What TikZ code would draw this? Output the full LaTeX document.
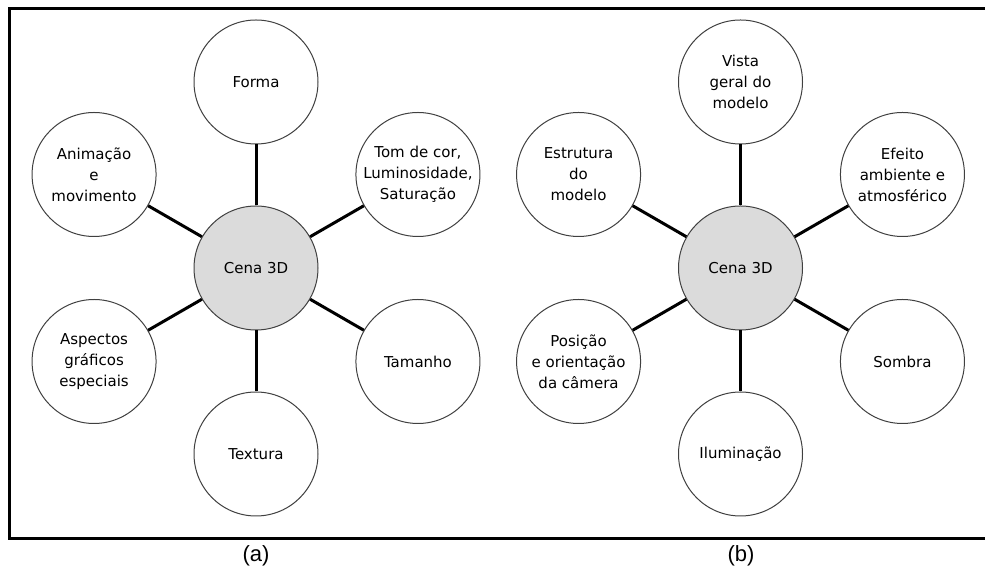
\documentclass[tikz,border=0pt]{standalone}
\usepackage{fontspec}
\setmainfont{DejaVu Sans}
\newfontfamily\capfont{Liberation Sans}
\usetikzlibrary{calc}

\begin{document}
\begin{tikzpicture}[x=1pt, y=1pt,
  every node/.style = {shape=circle,
    draw=black!75, line width=1pt, align=center,
    minimum size=124pt, inner sep=0pt,
    font=\fontsize{15}{21}\selectfont},
  hub/.style = {fill=black!14},
  leaf/.style = {fill=white},
  caption/.style = {draw=none, shape=rectangle, minimum size=0pt,
    font=\capfont\fontsize{22}{26}\selectfont},
  link/.style = {line width=3pt, black}]
  \clip (0,0) rectangle (985,572);
  \draw[line width=3pt] (1000,563) -- (9,563) -- (9,33) -- (1000,33);

  % (a)
  \node[hub] (cenaA) at (256,304) {Cena 3D};
  \node[leaf] (forma)    at ($(cenaA)+(90:186)$)   {Forma};
  \node[leaf] (tomcor)   at ($(cenaA)+(30:187)$)   {Tom de cor,\\Luminosidade,\\Saturação};
  \node[leaf] (tamanho)  at ($(cenaA)+(-30:187)$)  {Tamanho};
  \node[leaf] (textura)  at ($(cenaA)+(-90:186)$)  {Textura};
  \node[leaf] (aspectos) at ($(cenaA)+(-150:187)$) {Aspectos\\gráficos\\especiais};
  \node[leaf] (animacao) at ($(cenaA)+(150:187)$)  {Animação\\e\\movimento};
  \foreach \n in {forma,tomcor,tamanho,textura,aspectos,animacao}
    \draw[link] (cenaA) -- (\n);
  \node[caption] (capA) at (256,16) {(a)};

  % (b)
  \node[hub] (cenaB) at (740.5,304) {Cena 3D};
  \node[leaf] (vista)     at ($(cenaB)+(90:186)$)   {Vista\\geral do\\modelo};
  \node[leaf] (efeito)    at ($(cenaB)+(30:187)$)   {Efeito\\ambiente e\\atmosférico};
  \node[leaf] (sombra)    at ($(cenaB)+(-30:187)$)  {Sombra};
  \node[leaf] (ilum)      at ($(cenaB)+(-90:186)$)  {Iluminação};
  \node[leaf] (posicao)   at ($(cenaB)+(-150:187)$) {Posição\\e orientação\\da câmera};
  \node[leaf] (estrutura) at ($(cenaB)+(150:187)$)  {Estrutura\\do\\modelo};
  \foreach \n in {vista,efeito,sombra,ilum,posicao,estrutura}
    \draw[link] (cenaB) -- (\n);
  \node[caption] (capB) at (741,16) {(b)};
\end{tikzpicture}
\end{document}
